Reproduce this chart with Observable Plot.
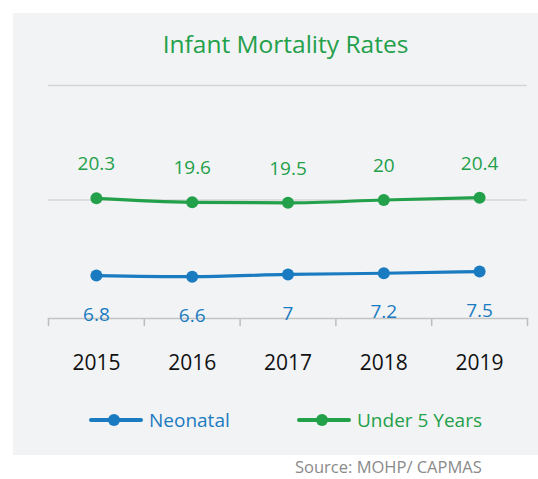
<!DOCTYPE html>
<html>
<head>
<meta charset="utf-8">
<script src="https://cdn.jsdelivr.net/npm/d3@7"></script>
<script src="https://cdn.jsdelivr.net/npm/@observablehq/plot@0.6"></script>
<style>
  html, body { margin: 0; padding: 0; background: #ffffff; }
  #wrap { position: relative; width: 538px; height: 479px; overflow: hidden; font-family: "Open Sans", sans-serif; }
  #panel { position: absolute; left: 13px; top: 13px; width: 525px; height: 442px; background: #f2f3f5; }
  #title { position: absolute; left: 13px; width: 545px; top: 28px; text-align: center; color: #23a04a; font-size: 24.5px; line-height: 32px; }
  #chart { position: absolute; left: 0; top: 60px; }
  .leg { position: absolute; top: 406px; height: 28px; display: flex; align-items: center; font-size: 19px; }
  .leg .sw { position: relative; width: 54px; height: 28px; margin-right: 6px; }
  .leg .sw .ln { position: absolute; left: 0; right: 0; top: 12px; height: 4px; border-radius: 2px; }
  .leg .sw .dt { position: absolute; left: 19px; top: 8px; width: 12px; height: 12px; border-radius: 6px; }
  #source { position: absolute; left: 295px; top: 457px; font-size: 16.5px; line-height: 20px; color: #8a8a8a; }
</style>
</head>
<body>
<div id="wrap">
  <div id="panel"></div>
  <div id="title">Infant Mortality Rates</div>
  <div id="chart"></div>
  <div id="legend"></div>
  <div id="source">Source: MOHP/ CAPMAS</div>
</div>
<script>
const years = [2015, 2016, 2017, 2018, 2019];
const neonatal = [6.8, 6.6, 7, 7.2, 7.5];
const under5 = [20.3, 19.6, 19.5, 20, 20.4];
const seriesNames = ["Neonatal", "Under 5 Years"];
const seriesColors = ["#1a7bc1", "#23a04a"];
const yGrid = [20, 40];

const rows = [
  ...years.map((y, i) => ({year: y, value: neonatal[i], series: seriesNames[0]})),
  ...years.map((y, i) => ({year: y, value: under5[i], series: seriesNames[1]}))
];
const neo = rows.filter(d => d.series === seriesNames[0]);
const u5 = rows.filter(d => d.series === seriesNames[1]);
const bounds = [years[0] - 0.5, ...years.map(y => y + 0.5)];

const chart = Plot.plot({
  width: 538,
  height: 330,
  marginLeft: 48,
  marginRight: 11,
  marginTop: 25,
  marginBottom: 72,
  style: {background: "transparent", fontFamily: "Open Sans, sans-serif", overflow: "visible"},
  x: {type: "linear", domain: [years[0] - 0.5, years[years.length - 1] + 0.5], axis: null},
  y: {domain: [-0.7, 40], axis: null},
  color: {domain: seriesNames, range: seriesColors},
  marks: [
    Plot.ruleY(yGrid, {stroke: "#d8d6d4", strokeWidth: 1.5}),
    Plot.axisX({ticks: bounds, tickFormat: () => "", tickSize: 8, stroke: "#bdbdbd", strokeWidth: 1.5, label: null}),
    Plot.frame({anchor: "bottom", stroke: "#c4c4c4", strokeWidth: 1.5}),
    Plot.axisX({ticks: years, tickFormat: d => String(d), tickSize: 0, tickPadding: 37, fontSize: 21, fill: "#111", stroke: "none", label: null}),
    Plot.line(rows, {x: "year", y: "value", z: "series", stroke: "series", strokeWidth: 3.2, curve: "monotone-x"}),
    Plot.dot(rows, {x: "year", y: "value", fill: "series", r: 6}),
    Plot.text(u5, {x: "year", y: "value", text: d => String(d.value), dy: -34, fill: seriesColors[1], fontSize: 19}),
    Plot.text(neo, {x: "year", y: "value", text: d => String(d.value), dy: 39, fill: seriesColors[0], fontSize: 19})
  ]
});
document.getElementById("chart").appendChild(chart);

const legend = document.getElementById("legend");
const legX = [89, 297];
seriesNames.forEach((name, i) => {
  const el = document.createElement("div");
  el.className = "leg";
  el.style.left = legX[i] + "px";
  el.style.color = seriesColors[i];
  el.innerHTML = `<div class="sw"><div class="ln" style="background:${seriesColors[i]}"></div><div class="dt" style="background:${seriesColors[i]}"></div></div><span>${name}</span>`;
  legend.appendChild(el);
});
</script>
</body>
</html>
